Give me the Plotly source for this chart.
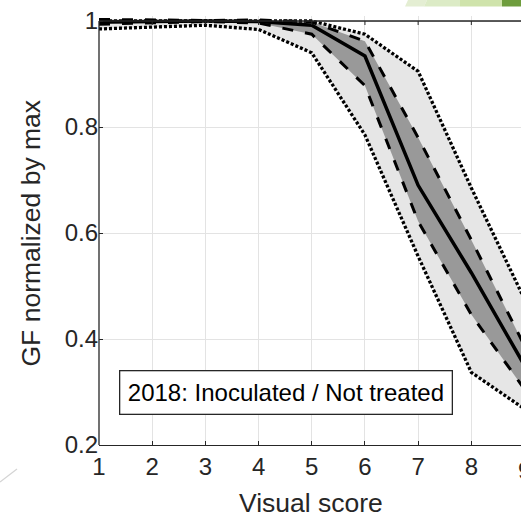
import plotly.graph_objects as go

# ---- data ----
visual_score = [1, 2, 3, 4, 5, 6, 7, 8, 9]
gf_mean = [0.998, 0.999, 1.000, 0.999, 0.992, 0.934, 0.690, 0.525, 0.350]
gf_std_hi = [1.003, 1.002, 1.001, 1.002, 0.998, 0.962, 0.780, 0.587, 0.387]
gf_std_lo = [0.994, 0.996, 0.999, 0.996, 0.975, 0.878, 0.622, 0.446, 0.305]
gf_max = [1.000, 1.000, 1.000, 1.000, 1.000, 0.975, 0.905, 0.685, 0.475]
gf_min = [0.985, 0.988, 0.992, 0.984, 0.940, 0.785, 0.556, 0.337, 0.268]

x_ticks = [1, 2, 3, 4, 5, 6, 7, 8]
y_ticks = [0.2, 0.4, 0.6, 0.8, 1.0]
y_tick_text = ["0.2", "0.4", "0.6", "0.8", "1"]
box_text = "2018: Inoculated / Not treated"
x_title = "Visual score"
y_title = "GF normalized by max"

# ---- layout geometry ----
W, H = 521, 518
ML, MR, MT, MB = 99, 0, 16, 73
PW, PH = W - ML - MR, H - MT - MB
XS = 53.19   # px per x unit
YS = 530.0   # px per y unit
x_range = [1, 1 + PW / XS]
y_range = [0.2, 0.2 + PH / YS]

def px(xp):
    return (xp - ML) / PW

def py(yp):
    return (H - MB - yp) / PH

INK = "#262626"
FONT = "Liberation Sans, Arial, sans-serif"

fig = go.Figure()

# min/max band
fig.add_trace(go.Scatter(
    x=visual_score + visual_score[::-1], y=gf_max + gf_min[::-1],
    fill="toself", fillcolor="#e6e6e6", line=dict(width=0),
    mode="lines", hoverinfo="skip", showlegend=False))
# std band
fig.add_trace(go.Scatter(
    x=visual_score + visual_score[::-1], y=gf_std_hi + gf_std_lo[::-1],
    fill="toself", fillcolor="#999999", line=dict(width=0),
    mode="lines", hoverinfo="skip", showlegend=False))

for ys in (gf_max, gf_min):
    fig.add_trace(go.Scatter(x=visual_score, y=ys, mode="lines",
                             line=dict(color="black", width=3.3, dash="3px,2px"),
                             showlegend=False))
for ys in (gf_std_hi, gf_std_lo):
    fig.add_trace(go.Scatter(x=visual_score, y=ys, mode="lines",
                             line=dict(color="black", width=3, dash="11px,12px"),
                             showlegend=False))
fig.add_trace(go.Scatter(x=visual_score, y=gf_mean, mode="lines",
                         line=dict(color="black", width=3.5), showlegend=False))

shapes = [
    # top frame line at y = 1
    dict(type="line", xref="paper", yref="y", x0=0, x1=1, y0=1, y1=1,
         line=dict(color=INK, width=1.3), layer="above"),
    # left frame line
    dict(type="line", xref="paper", yref="y", x0=0, x1=0, y0=0.2, y1=1,
         line=dict(color=INK, width=1.3), layer="above"),
    # faint slide line bottom-left
    dict(type="line", xref="paper", yref="paper", x0=px(0), y0=py(482),
         x1=px(17), y1=py(469), line=dict(color="#d4d4d4", width=1.2)),
]
# mirrored tick marks on the top frame
for t in x_ticks[1:]:
    shapes.append(dict(type="line", xref="x", yref="y", x0=t, x1=t,
                       y0=1, y1=1 - 4 / YS, line=dict(color=INK, width=1),
                       layer="above"))
# green slide decoration top-right
greens = [
    ([(405, 6.5), (408, 0), (427, 0), (424, 6.5)], "#e4eed3"),
    ([(424, 6.5), (427, 0), (460, 0), (460, 6.5)], "#dcebc6"),
    ([(460, 6.5), (460, 0), (502, 0), (502, 6.5)], "#cfe3ab"),
    ([(502, 6.5), (502, 0), (521, 0), (521, 6.5)], "#6e9d3d"),
]
for pts, col in greens:
    path = "M " + " L ".join(f"{px(a):.5f},{py(b):.5f}" for a, b in pts) + " Z"
    shapes.append(dict(type="path", xref="paper", yref="paper", path=path,
                       fillcolor=col, line=dict(width=0)))

annotations = [
    dict(text=box_text, x=px(285.5), y=py(392.5), xref="paper", yref="paper",
         xanchor="center", yanchor="middle", showarrow=False,
         font=dict(family=FONT, size=24, color="black"),
         bgcolor="white", bordercolor=INK, borderwidth=1.3, borderpad=7.5),
    dict(text=x_title, x=px(310.5), y=py(503), xref="paper", yref="paper",
         xanchor="center", yanchor="middle", showarrow=False,
         font=dict(family=FONT, size=26.5, color=INK)),
    dict(text=y_title, x=px(30), y=py(233.5), xref="paper", yref="paper",
         xanchor="center", yanchor="middle", showarrow=False, textangle=-90,
         font=dict(family=FONT, size=26.5, color=INK)),
    # partially visible "9" tick label past the right edge
    dict(text="9", x=px(99 + 8 * XS), y=0, xref="paper", yref="paper",
         xanchor="center", yanchor="top", yshift=-10, showarrow=False,
         font=dict(family=FONT, size=24, color=INK)),
]

fig.update_layout(
    width=W, height=H,
    margin=dict(l=ML, r=MR, t=MT, b=MB, pad=0),
    paper_bgcolor="white", plot_bgcolor="white",
    font=dict(family=FONT, color=INK),
    showlegend=False,
    shapes=shapes, annotations=annotations,
    xaxis=dict(range=x_range, tickvals=x_ticks, ticks="inside", ticklen=4,
               tickcolor=INK, showline=True, linecolor=INK, linewidth=1.3,
               showgrid=True, gridcolor="#e3e3e3", gridwidth=1, zeroline=False,
               tickfont=dict(family=FONT, size=24, color=INK)),
    yaxis=dict(range=y_range, tickvals=y_ticks, ticktext=y_tick_text,
               ticks="inside", ticklen=4, tickcolor=INK, showline=False,
               showgrid=True, gridcolor="#e3e3e3", gridwidth=1, zeroline=False,
               tickfont=dict(family=FONT, size=24, color=INK)),
)

fig.write_html("out.html")
